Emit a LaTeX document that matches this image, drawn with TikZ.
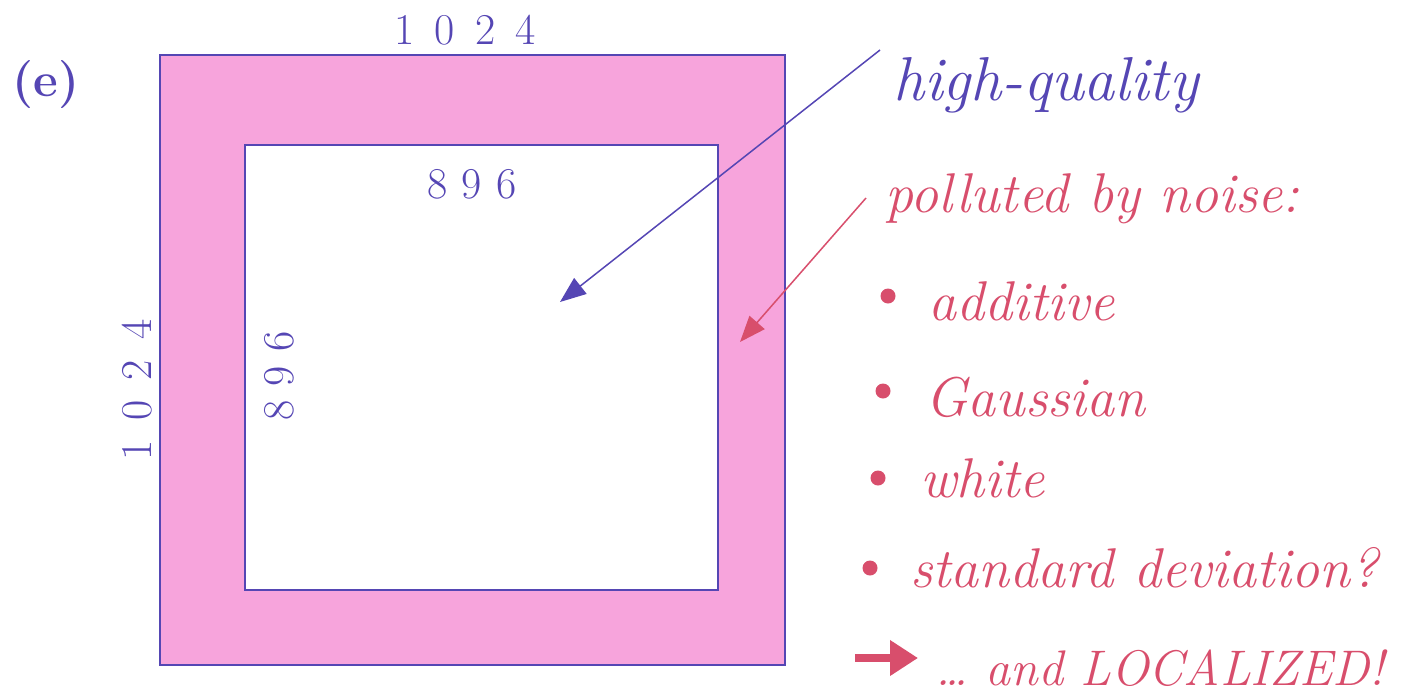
\documentclass[tikz,border=0pt]{standalone}
\usetikzlibrary{arrows.meta}
\definecolor{pen}{HTML}{5546B4}
\definecolor{rpen}{HTML}{D84E6C}
\definecolor{band}{HTML}{F7A4DC}
\tikzset{
  blueline/.style={draw=pen, line width=1.6pt},
  bluetxt/.style={text=pen, inner sep=0pt, font=\fontsize{44}{46}\selectfont},
  redtxt/.style={text=rpen, inner sep=0pt, anchor=base west, font=\fontsize{56}{58}\selectfont\itshape},
  bullet/.style={circle, fill=rpen, minimum size=15pt, inner sep=0pt},
  redarrow/.style={draw=rpen, line width=1.5pt, -{Triangle[length=26pt,width=20pt]}},
  bluearrow/.style={draw=pen, line width=1.5pt, -{Triangle[length=26pt,width=20pt]}},
}
\begin{document}
\begin{tikzpicture}[x=1pt,y=-1pt]
\useasboundingbox (0,0) rectangle (1405,699);
% band
\fill[band, even odd rule] (160,55) rectangle (785,665) (245,145) rectangle (718,590);
\node[blueline, minimum width=625pt, minimum height=610pt, inner sep=0pt] (outer) at (472.5,360) {};
\node[blueline, minimum width=473pt, minimum height=445pt, inner sep=0pt] (inner) at (481.5,367.5) {};
% labels
\node[text=pen, inner sep=0pt, font=\fontsize{48}{50}\selectfont\bfseries] (lbl) at (46,85) {(e)};
\node[bluetxt] (top1024) at (465,30) {1\hspace{20pt}0\hspace{20pt}2\hspace{20pt}4};
\node[bluetxt] (top896) at (472,184) {8\hspace{14pt}9\hspace{14pt}6};
\node[bluetxt, rotate=90] (left1024) at (137,390) {1\hspace{20pt}0\hspace{20pt}2\hspace{20pt}4};
\node[bluetxt, rotate=90] (left896) at (279,376) {8\hspace{14pt}9\hspace{14pt}6};
% texts
\node[text=pen, inner sep=0pt, anchor=base west, font=\fontsize{62}{64}\selectfont\itshape] (hq) at (893,100) {high-quality};
\node[redtxt] (pol) at (885,212) {polluted by noise:};
\node[redtxt] (add) at (928,320) {additive};
\node[redtxt] (gau) at (925,416) {Gaussian};
\node[redtxt] (whi) at (920,497) {white};
\node[redtxt] (std) at (910,587) {standard deviation?};
\node[redtxt, font=\fontsize{50}{52}\selectfont\itshape] (loc) at (935,685) {\dots\ and LOCALIZED!};
% bullets
\node[bullet] (b1) at (888,296) {};
\node[bullet] (b2) at (883,391) {};
\node[bullet] (b3) at (878,478) {};
\node[bullet] (b4) at (870,568) {};
% arrows
\coordinate (hqend) at (560,302);
\coordinate (hqstart) at (880,50);
\coordinate (polend) at (740,342);
\coordinate (polstart) at (866,198);
\draw[bluearrow] (hqstart) -- (hqend);
\draw[redarrow] (polstart) -- (polend);
\coordinate (la) at (855,658);
\coordinate (lb) at (918,658);
\draw[draw=rpen, line width=8pt, -{Triangle[length=28pt,width=34pt]}] (la) -- (lb);
\end{tikzpicture}
\end{document}
